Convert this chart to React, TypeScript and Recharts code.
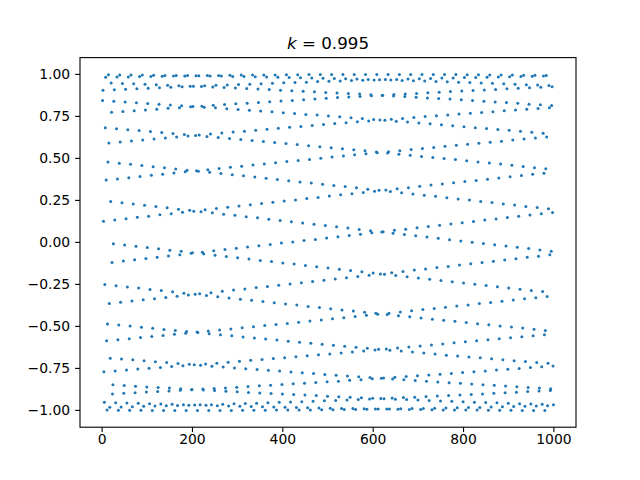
import React from 'react';
import { ScatterChart, Scatter, XAxis, YAxis } from 'recharts';

// Sample index of the first point of each of the 25 interleaved strands, and spacing along a strand
const strandStart = [25, 1, 2, 3, 4, 5, 6, 7, 8, 9, 10, 11, 12, 13, 14, 15, 16, 17, 18, 19, 20, 21, 22, 23, 24];
const strandStep = 25;

const strand0 = [-0.008,-0.015,-0.023,-0.031,-0.038,-0.046,-0.053,-0.061,-0.069,-0.076,-0.084,-0.091,-0.099,-0.107,-0.114,-0.122,-0.129,-0.137,-0.145,-0.152,-0.160,-0.167,-0.175,-0.182,-0.190,-0.197,-0.205,-0.212,-0.220,-0.227,-0.234,-0.242,-0.249,-0.257,-0.264,-0.271,-0.279,-0.286,-0.293];
const strand1 = [0.844,0.840,0.835,0.831,0.827,0.822,0.818,0.814,0.809,0.805,0.801,0.796,0.791,0.786,0.782,0.777,0.772,0.767,0.762,0.758,0.753,0.748,0.742,0.737,0.732,0.727,0.721,0.716,0.711,0.706,0.700,0.695,0.689,0.683,0.678,0.672,0.667,0.661,0.655,0.650];
const strand2 = [0.905,0.908,0.911,0.914,0.917,0.920,0.923,0.926,0.929,0.932,0.935,0.937,0.940,0.942,0.945,0.947,0.950,0.952,0.954,0.957,0.959,0.961,0.963,0.965,0.967,0.969,0.970,0.972,0.974,0.976,0.978,0.979,0.981,0.982,0.983,0.985,0.986,0.987,0.989,0.990];
const strand3 = [0.126,0.134,0.141,0.149,0.156,0.164,0.171,0.179,0.186,0.194,0.202,0.209,0.216,0.224,0.231,0.239,0.246,0.253,0.261,0.268,0.276,0.283,0.290,0.297,0.305,0.312,0.319,0.326,0.334,0.341,0.348,0.355,0.362,0.369,0.376,0.384,0.391,0.398,0.405,0.412];
const strand4 = [-0.770,-0.765,-0.760,-0.754,-0.749,-0.744,-0.739,-0.734,-0.729,-0.724,-0.719,-0.713,-0.708,-0.702,-0.697,-0.691,-0.686,-0.680,-0.675,-0.669,-0.664,-0.658,-0.652,-0.646,-0.640,-0.634,-0.628,-0.622,-0.616,-0.611,-0.605,-0.598,-0.592,-0.586,-0.580,-0.573,-0.567,-0.561,-0.555,-0.549];
const strand5 = [-0.952,-0.954,-0.956,-0.958,-0.960,-0.962,-0.964,-0.966,-0.968,-0.970,-0.972,-0.974,-0.975,-0.977,-0.978,-0.980,-0.981,-0.983,-0.984,-0.986,-0.987,-0.988,-0.989,-0.990,-0.991,-0.992,-0.993,-0.994,-0.995,-0.996,-0.997,-0.997,-0.998,-0.998,-0.999,-0.999,-0.999,-1.000,-1.000,-1.000];
const strand6 = [-0.250,-0.258,-0.265,-0.272,-0.280,-0.287,-0.294,-0.302,-0.309,-0.316,-0.324,-0.331,-0.338,-0.345,-0.352,-0.359,-0.366,-0.373,-0.381,-0.388,-0.395,-0.402,-0.409,-0.416,-0.422,-0.429,-0.436,-0.443,-0.450,-0.457,-0.464,-0.470,-0.477,-0.484,-0.490,-0.497,-0.504,-0.510,-0.517,-0.524];
const strand7 = [0.683,0.677,0.671,0.666,0.660,0.654,0.648,0.643,0.637,0.631,0.625,0.619,0.613,0.607,0.601,0.595,0.588,0.582,0.576,0.570,0.564,0.557,0.551,0.545,0.538,0.532,0.525,0.519,0.512,0.506,0.499,0.493,0.486,0.479,0.472,0.466,0.459,0.452,0.445,0.439];
const strand8 = [0.983,0.984,0.985,0.987,0.988,0.989,0.990,0.991,0.992,0.993,0.994,0.995,0.996,0.996,0.997,0.997,0.998,0.998,0.999,0.999,0.999,1.000,1.000,1.000,1.000,1.000,1.000,1.000,1.000,0.999,0.999,0.999,0.998,0.998,0.997,0.997,0.996,0.995,0.995,0.994];
const strand9 = [0.371,0.378,0.385,0.392,0.399,0.406,0.413,0.420,0.426,0.433,0.440,0.447,0.454,0.461,0.467,0.474,0.481,0.487,0.494,0.501,0.508,0.514,0.521,0.527,0.533,0.540,0.546,0.553,0.559,0.565,0.572,0.578,0.584,0.590,0.596,0.602,0.609,0.615,0.621,0.627];
const strand10 = [-0.585,-0.579,-0.573,-0.566,-0.560,-0.554,-0.547,-0.541,-0.534,-0.528,-0.522,-0.515,-0.508,-0.502,-0.495,-0.488,-0.482,-0.475,-0.468,-0.462,-0.455,-0.448,-0.441,-0.434,-0.427,-0.421,-0.414,-0.407,-0.400,-0.393,-0.386,-0.379,-0.372,-0.364,-0.357,-0.350,-0.343,-0.336,-0.329,-0.322];
const strand11 = [-0.998,-0.999,-0.999,-0.999,-1.000,-1.000,-1.000,-1.000,-1.000,-1.000,-1.000,-1.000,-0.999,-0.999,-0.999,-0.998,-0.998,-0.998,-0.997,-0.996,-0.996,-0.995,-0.994,-0.993,-0.992,-0.991,-0.990,-0.989,-0.988,-0.987,-0.986,-0.984,-0.983,-0.982,-0.980,-0.978,-0.977,-0.975,-0.974,-0.972];
const strand12 = [-0.485,-0.491,-0.498,-0.505,-0.511,-0.518,-0.524,-0.531,-0.537,-0.544,-0.550,-0.556,-0.563,-0.569,-0.575,-0.581,-0.588,-0.594,-0.600,-0.606,-0.612,-0.618,-0.624,-0.630,-0.636,-0.642,-0.647,-0.653,-0.659,-0.665,-0.671,-0.676,-0.682,-0.687,-0.693,-0.698,-0.704,-0.709,-0.715,-0.720];
const strand13 = [0.478,0.471,0.465,0.458,0.451,0.444,0.437,0.430,0.424,0.417,0.410,0.403,0.396,0.389,0.382,0.374,0.367,0.360,0.353,0.346,0.339,0.332,0.325,0.317,0.310,0.303,0.295,0.288,0.281,0.274,0.266,0.259,0.252,0.244,0.237,0.229,0.222,0.214,0.207,0.200];
const strand14 = [0.998,0.997,0.997,0.996,0.995,0.994,0.994,0.993,0.992,0.991,0.990,0.988,0.987,0.986,0.984,0.983,0.981,0.980,0.979,0.977,0.976,0.974,0.972,0.970,0.968,0.966,0.964,0.962,0.960,0.958,0.956,0.954,0.952,0.949,0.947,0.944,0.942,0.939,0.937,0.934];
const strand15 = [0.591,0.597,0.603,0.609,0.615,0.621,0.627,0.633,0.639,0.645,0.651,0.657,0.662,0.668,0.674,0.679,0.685,0.690,0.696,0.702,0.707,0.712,0.718,0.723,0.728,0.733,0.738,0.744,0.749,0.754,0.759,0.764,0.769,0.773,0.778,0.783,0.788,0.793,0.797,0.802];
const strand16 = [-0.364,-0.356,-0.349,-0.342,-0.335,-0.328,-0.320,-0.313,-0.306,-0.299,-0.291,-0.284,-0.277,-0.269,-0.262,-0.255,-0.247,-0.240,-0.232,-0.225,-0.218,-0.210,-0.203,-0.195,-0.188,-0.180,-0.173,-0.165,-0.158,-0.150,-0.143,-0.135,-0.127,-0.120,-0.112,-0.105,-0.097,-0.089,-0.082,-0.074];
const strand17 = [-0.981,-0.980,-0.978,-0.976,-0.974,-0.973,-0.971,-0.969,-0.967,-0.966,-0.964,-0.961,-0.959,-0.957,-0.955,-0.952,-0.950,-0.948,-0.945,-0.943,-0.941,-0.938,-0.935,-0.932,-0.929,-0.926,-0.923,-0.921,-0.918,-0.915,-0.912,-0.909,-0.905,-0.902,-0.898,-0.895,-0.892,-0.888,-0.885,-0.882];
const strand18 = [-0.689,-0.694,-0.699,-0.705,-0.710,-0.715,-0.721,-0.726,-0.731,-0.737,-0.742,-0.747,-0.752,-0.757,-0.761,-0.766,-0.771,-0.776,-0.781,-0.786,-0.791,-0.795,-0.800,-0.804,-0.809,-0.813,-0.817,-0.822,-0.826,-0.831,-0.835,-0.839,-0.843,-0.847,-0.851,-0.855,-0.859,-0.863,-0.867,-0.871];
const strand19 = [0.243,0.236,0.228,0.221,0.213,0.206,0.198,0.191,0.183,0.176,0.168,0.161,0.153,0.146,0.138,0.131,0.123,0.115,0.108,0.100,0.093,0.085,0.077,0.070,0.062,0.055,0.047,0.039,0.032,0.024,0.016,0.009,0.001,-0.006,-0.014,-0.022,-0.029,-0.037,-0.045,-0.052];
const strand20 = [0.949,0.946,0.944,0.941,0.938,0.936,0.933,0.930,0.928,0.925,0.922,0.919,0.916,0.913,0.910,0.906,0.903,0.900,0.897,0.893,0.890,0.886,0.883,0.879,0.875,0.872,0.868,0.864,0.860,0.857,0.853,0.849,0.844,0.840,0.836,0.832,0.828,0.823,0.819,0.815];
const strand21 = [0.775,0.779,0.784,0.788,0.793,0.798,0.802,0.807,0.811,0.816,0.821,0.825,0.829,0.833,0.837,0.841,0.845,0.849,0.854,0.858,0.862,0.865,0.869,0.873,0.876,0.880,0.884,0.887,0.891,0.894,0.898,0.901,0.904,0.907,0.910,0.914,0.917,0.920,0.923,0.926];
const strand22 = [-0.119,-0.111,-0.103,-0.096,-0.088,-0.081,-0.073,-0.065,-0.058,-0.050,-0.043,-0.035,-0.027,-0.020,-0.012,-0.004,0.003,0.011,0.018,0.026,0.034,0.041,0.049,0.057,0.064,0.072,0.079,0.087,0.095,0.102,0.110,0.117,0.125,0.133,0.140,0.148,0.155,0.163,0.170,0.178];
const strand23 = [-0.902,-0.898,-0.895,-0.891,-0.888,-0.884,-0.880,-0.877,-0.873,-0.870,-0.866,-0.862,-0.858,-0.854,-0.850,-0.846,-0.842,-0.838,-0.834,-0.830,-0.826,-0.821,-0.817,-0.812,-0.807,-0.803,-0.798,-0.794,-0.789,-0.785,-0.780,-0.775,-0.770,-0.765,-0.760,-0.755,-0.750,-0.745,-0.740,-0.735];
const strand24 = [-0.848,-0.852,-0.856,-0.860,-0.863,-0.867,-0.871,-0.875,-0.879,-0.882,-0.886,-0.889,-0.893,-0.896,-0.899,-0.903,-0.906,-0.909,-0.912,-0.916,-0.919,-0.922,-0.924,-0.927,-0.930,-0.933,-0.935,-0.938,-0.941,-0.944,-0.946,-0.949,-0.951,-0.953,-0.955,-0.957,-0.960,-0.962,-0.964,-0.966];

const strands = [strand0, strand1, strand2, strand3, strand4, strand5, strand6, strand7, strand8, strand9, strand10, strand11, strand12, strand13, strand14, strand15, strand16, strand17, strand18, strand19, strand20, strand21, strand22, strand23, strand24];

const xTicks = [0, 200, 400, 600, 800, 1000];
const yTicks = [-1, -0.75, -0.5, -0.25, 0, 0.25, 0.5, 0.75, 1];
const titleK = 'k';
const titleRest = ' = 0.995';

const points = strands.flatMap((ys, r) => ys.map((y, j) => ({ n: strandStart[r] + strandStep * j, y })));

const FONT = '"DejaVu Sans", sans-serif';
const BLUE = '#1f77b4';

const fmtY = (v: number) => (v < 0 ? '\u2212' : '') + Math.abs(v).toFixed(2);

const Dot = (p: any) => <circle cx={p.cx} cy={p.cy} r={1.5} fill={BLUE} />;

export default function App() {
  const left = 80, top = 57.6, right = 576, bottom = 427.2;
  const yAxisW = 60, xAxisH = 30;
  return (
    <div style={{ position: 'absolute', left: 0, top: 0, width: 640, height: 480, background: '#fff' }}>
      <ScatterChart
        width={640}
        height={480}
        margin={{ top: top, right: 640 - right, bottom: 480 - bottom - xAxisH, left: left - yAxisW }}
      >
        <XAxis
          type="number"
          dataKey="n"
          domain={[-48.9, 1048.9]}
          ticks={xTicks}
          allowDataOverflow
          height={xAxisH}
          axisLine={false}
          tickSize={4.9}
          tickMargin={2}
          tickLine={{ stroke: '#000', strokeWidth: 1.1 }}
          tick={{ fill: '#000', fontSize: 13.9, fontFamily: FONT }}
        />
        <YAxis
          type="number"
          dataKey="y"
          domain={[-1.1, 1.1]}
          ticks={yTicks}
          allowDataOverflow
          width={yAxisW}
          axisLine={false}
          tickSize={4.9}
          tickMargin={4.9}
          tickFormatter={fmtY}
          tickLine={{ stroke: '#000', strokeWidth: 1.1 }}
          tick={{ fill: '#000', fontSize: 13.9, fontFamily: FONT }}
        />
        <Scatter data={points} isAnimationActive={false} shape={Dot} fill={BLUE} />
      </ScatterChart>
      <svg width={640} height={480} style={{ position: 'absolute', left: 0, top: 0, pointerEvents: 'none' }}>
        <rect x={left} y={top} width={right - left} height={bottom - top} fill="none" stroke="#000" strokeWidth={1.1} />
        <text x={(left + right) / 2} y={49.3} textAnchor="middle" fontSize={16.7} fontFamily={FONT} fill="#000">
          <tspan fontStyle="italic">{titleK}</tspan>
          <tspan>{titleRest}</tspan>
        </text>
      </svg>
    </div>
  );
}
